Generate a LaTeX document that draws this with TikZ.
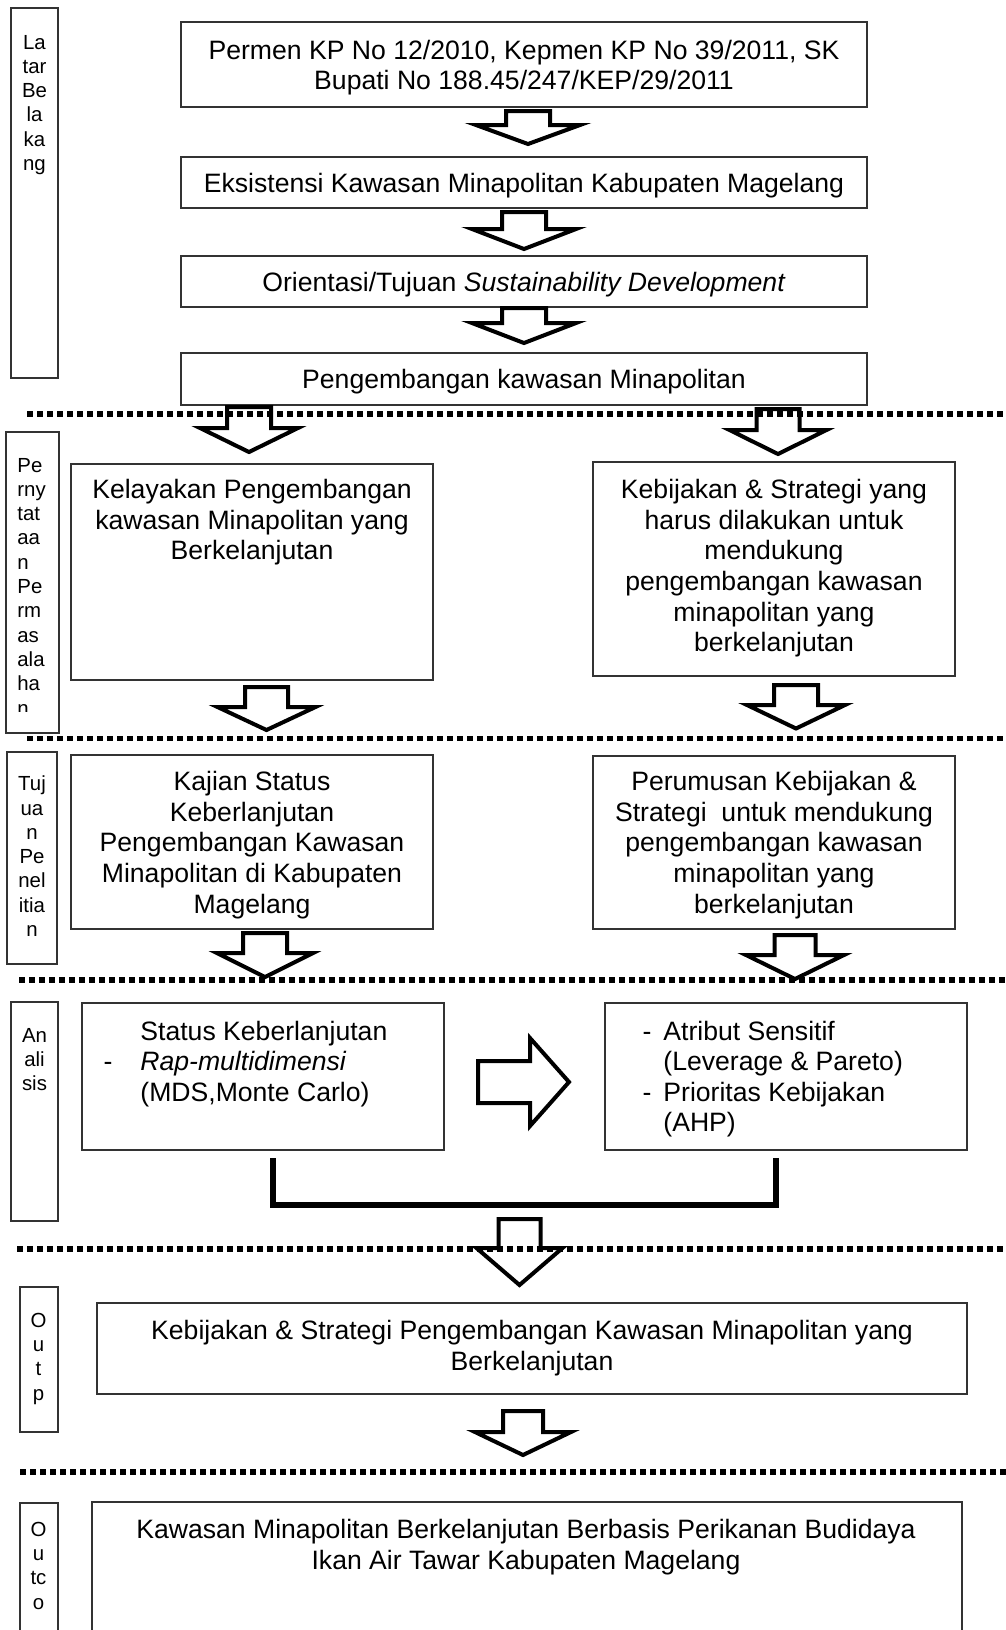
\documentclass[tikz,border=0pt]{standalone}
\usepackage{fontspec}
\setmainfont{Liberation Sans}
\usepackage{tikz}
\usetikzlibrary{fit}
\tikzset{
    panel/.style={
        draw=black!80,
        line width=0.6pt,
        inner sep=0pt
    },
    txt/.style={
        inner sep=0pt,
        align=center,
        font=\fontsize{13.3}{15.3}\selectfont
    },
    sidetag/.style={
        inner sep=0pt,
        align=center,
        font=\fontsize{10.2}{12.15}\selectfont
    },
    blockarrow/.style={draw=black, fill=white, line width=2pt, line join=miter},
    divider/.style={line width=2.6pt, dash pattern=on 3pt off 2pt},
    bracket/.style={line width=3pt}
}
\newcommand{\blockdown}[6] {
	\draw[blockarrow] (#1-#5,#2) -- (#1+#5,#2) -- (#1+#5,#3) -- (#1+#6,#3) -- (#1,#4) -- (#1-#6,#3) -- (#1-#5,#3) -- cycle;
}
\newcommand{\blockright}[6] {
	\draw[blockarrow] (#2,#1-#5) -- (#3,#1-#5) -- (#3,#1-#6) -- (#4,#1) -- (#3,#1+#6) -- (#3,#1+#5) -- (#2,#1+#5) -- cycle;
}
\newcommand{\sectionrule}[2] {
	\draw[divider] (#1,#2) -- (1006,#2);
}

\begin{document}
\begin{tikzpicture}[x=0.5pt,y=-0.5pt]
		\clip (0,0) rectangle (1006,1630);

		% Latar Belakang
		\node[panel, fit={(11,8) (58,378)}] (latar) {};
		\node[sidetag, anchor=north] (latartxt) at (34.5,34.6) {La\\tar\\Be\\la\\ka\\ng};
		\node[panel, fit={(181,22) (867,107)}] (permen) {};
		\node[txt, yshift=-1.5pt] (permentxt) at (permen) {Permen KP No 12/2010, Kepmen KP No 39/2011, SK\\Bupati No 188.45/247/KEP/29/2011};
		\node[panel, fit={(181,157) (867,208)}] (eksis) {};
		\node[txt, yshift=-1.5pt] (eksistxt) at (eksis) {Eksistensi Kawasan Minapolitan Kabupaten Magelang};
		\node[panel, fit={(181,256) (867,307)}] (orient) {};
		\node[txt, yshift=-1.5pt] (orienttxt) at (orient) {Orientasi/Tujuan \textit{Sustainability Development}};
		\node[panel, fit={(181,353) (867,405)}] (kawasan) {};
		\node[txt, yshift=-1.5pt] (kawasantxt) at (kawasan) {Pengembangan kawasan Minapolitan};

		\blockdown{528}{111}{125}{144}{22}{52}
		\blockdown{524}{212}{229}{249}{22}{52}
		\blockdown{524}{308}{323}{343}{22}{52}

		% Pernyataan Permasalahan
		\node[panel, fit={(6,432) (59,733)}] (nyata) {};
		\begin{scope}
			\clip (6,432) rectangle (59,711);
			\node[sidetag, align=left, anchor=north west] (nyatatxt) at (17,457.6) {Pe\\rny\\tat\\aa\\n\\Pe\\rm\\as\\ala\\ha\\n};
		\end{scope}
		\node[panel, fit={(71,464) (433,680)}] (layak) {};
		\node[txt, anchor=north] (layaktxt) at (252,479) {Kelayakan Pengembangan\\kawasan Minapolitan yang\\Berkelanjutan};
		\node[panel, fit={(593,462) (955,676)}] (bijak) {};
		\node[txt, anchor=north] (bijaktxt) at (774,479) {Kebijakan \& Strategi yang\\harus dilakukan untuk\\mendukung\\pengembangan kawasan\\minapolitan yang\\berkelanjutan};

		\blockdown{249}{407}{428}{452}{22}{49}
		\blockdown{778}{409}{430}{454}{21.5}{48.5}
		\blockdown{266.5}{687}{707}{730}{21.5}{49}
		\blockdown{796}{685}{705}{728.5}{22}{49}

		% Tujuan Penelitian
		\node[panel, fit={(7,752) (57,964)}] (tujuan) {};
		\node[sidetag, anchor=north] (tujuantxt) at (32,775.6) {Tuj\\ua\\n\\Pe\\nel\\itia\\n};
		\node[panel, fit={(71,755) (433,929)}] (kajian) {};
		\node[txt, anchor=north] (kajiantxt) at (252,771) {Kajian Status\\Keberlanjutan\\Pengembangan Kawasan\\Minapolitan di Kabupaten\\Magelang};
		\node[panel, fit={(593,756) (955,929)}] (rumus) {};
		\node[txt, anchor=north] (rumustxt) at (774,771) {Perumusan Kebijakan \&\\Strategi\ \ untuk mendukung\\pengembangan kawasan\\minapolitan yang\\berkelanjutan};

		\blockdown{265}{933}{953}{977}{22}{48}
		\blockdown{795}{935}{955}{979}{20.5}{49}

		% Analisis
		\node[panel, fit={(11,1002) (58,1221)}] (analisis) {};
		\node[sidetag, anchor=north] (analisistxt) at (34.5,1027.6) {An\\ali\\sis};
		\node[panel, fit={(82,1003) (444,1150)}] (status) {};
		\node[txt, align=left, anchor=north west] (statustxt) at (140,1020.5) {Status Keberlanjutan\\\llap{-\hspace{14pt}}\textit{Rap-multidimensi}\\(MDS,Monte Carlo)};
		\node[panel, fit={(605,1003) (967,1150)}] (atribut) {};
		\node[txt, align=left, anchor=north west] (atributtxt) at (663,1020.5) {\llap{-\hspace{6pt}}Atribut Sensitif\\(Leverage \& Pareto)\\\llap{-\hspace{6pt}}Prioritas Kebijakan\\(AHP)};

		\blockright{1082}{478}{530}{569}{21}{44}

		\coordinate (brL) at (273,1158);
		\coordinate (brR) at (776,1158);
		\draw[bracket] (brL) -- ++(0,47) -| (brR);

		\blockdown{519.5}{1219}{1248}{1285}{21}{43}

		% Output
		\node[panel, fit={(20,1287) (58,1432)}] (outp) {};
		\node[sidetag, anchor=north] (outptxt) at (38.5,1312.6) {O\\u\\t\\p};
		\node[panel, fit={(97,1303) (967,1394)}] (hasil) {};
		\node[txt, anchor=north] (hasiltxt) at (532,1320) {Kebijakan \& Strategi Pengembangan Kawasan Minapolitan yang\\Berkelanjutan};

		\blockdown{523}{1411}{1432}{1455}{20}{48}

		% Outcome
		\node[panel, fit={(20,1503) (58,1660)}] (outc) {};
		\node[sidetag, anchor=north] (outctxt) at (38.5,1521.6) {O\\u\\tc\\o};
		\node[panel, fit={(92,1502) (962,1660)}] (dampak) {};
		\node[txt, anchor=north] (dampaktxt) at (526,1519) {Kawasan Minapolitan Berkelanjutan Berbasis Perikanan Budidaya\\Ikan Air Tawar Kabupaten Magelang};

		% section borders
		\sectionrule{27}{414}
		\sectionrule{27}{738.5}
		\sectionrule{19}{980}
		\sectionrule{17}{1249}
		\sectionrule{20}{1472}

	\end{tikzpicture}
\end{document}
